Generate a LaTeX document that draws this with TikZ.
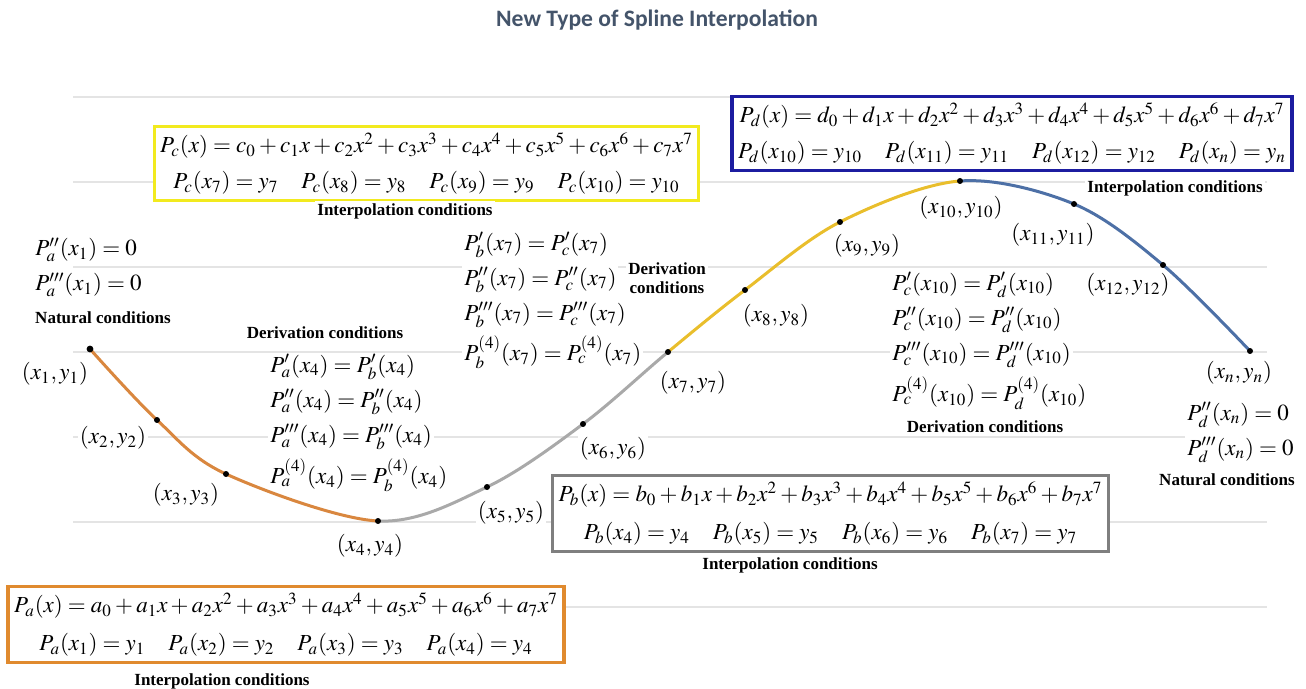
\documentclass[tikz,border=0pt]{standalone}
\usepackage{mathptmx}
\usepackage[no-math]{fontspec}
\setmainfont{Liberation Serif}
\newfontfamily\titlefont{Carlito}
\usepackage{tikz}
\usetikzlibrary{positioning}
\definecolor{titlegray}{HTML}{44546A}
\definecolor{gridgray}{HTML}{E4E4E4}
\definecolor{curveA}{HTML}{D9873F}
\definecolor{curveB}{HTML}{A9A9A9}
\definecolor{curveC}{HTML}{E9BE2C}
\definecolor{curveD}{HTML}{4D70A6}
\definecolor{boxA}{HTML}{E08A2E}
\definecolor{boxB}{HTML}{7F7F7F}
\definecolor{boxC}{HTML}{F2EA1E}
\definecolor{boxD}{HTML}{1C1CA0}

\begin{document}
\begin{tikzpicture}[x=0.5pt,y=-0.5pt,
  form/.style={font=\fontsize{11.5}{14}\selectfont,fill=white,inner sep=1pt},
  rowl/.style={form,anchor=west},
  lbl/.style={font=\fontsize{8.5}{9.5}\selectfont\bfseries,fill=white,inner sep=1pt,align=center},
  polybox/.style={form,draw,line width=1.6pt,inner xsep=3pt,inner ysep=3pt,align=center},
  spline/.style={line width=1.5pt,line cap=round}]
\useasboundingbox (0,0) rectangle (1306,689);
\node[font=\titlefont\fontsize{11.8}{13}\selectfont\bfseries,text=titlegray] (title) at (657,20) {New Type of Spline Interpolation};
% faint guide lines
\draw[gridgray,line width=0.6pt](73,97)--(1267,97) (73,182)--(1267,182)
(73,267)--(1267,267) (73,352)--(1267,352) (73,437)--(1267,437)
(73,522)--(1267,522) (73,607)--(1267,607);
% knots
\coordinate (p1) at (90,349);
\coordinate (p2) at (157,420);
\coordinate (p3) at (226,474);
\coordinate (p4) at (378,521);
\coordinate (p5) at (487,487);
\coordinate (p6) at (583,424);
\coordinate (p7) at (668,352);
\coordinate (p8) at (745,290);
\coordinate (p9) at (840,222);
\coordinate (p10) at (960,181);
\coordinate (p11) at (1074,204);
\coordinate (p12) at (1163,265);
\coordinate (pn) at (1250,351);
% polynomial boxes
\node[polybox,draw=boxA] (boxa) at (286,624.5) {$P_a(x)=a_0+a_1x+a_2x^2+a_3x^3+a_4x^4+a_5x^5+a_6x^6+a_7x^7$\\[5pt]
$P_a(x_1)=y_1\quad P_a(x_2)=y_2\quad P_a(x_3)=y_3\quad P_a(x_4)=y_4$};
\node[polybox,draw=boxB] (boxb) at (830.5,513.5) {$P_b(x)=b_0+b_1x+b_2x^2+b_3x^3+b_4x^4+b_5x^5+b_6x^6+b_7x^7$\\[5pt]
$P_b(x_4)=y_4\quad P_b(x_5)=y_5\quad P_b(x_6)=y_6\quad P_b(x_7)=y_7$};
\node[polybox,draw=boxC] (boxc) at (426.5,163.5) {$P_c(x)=c_0+c_1x+c_2x^2+c_3x^3+c_4x^4+c_5x^5+c_6x^6+c_7x^7$\\[4pt]
$P_c(x_7)=y_7\quad P_c(x_8)=y_8\quad P_c(x_9)=y_9\quad P_c(x_{10})=y_{10}$};
\node[polybox,draw=boxD] (boxd) at (1012,133.5) {$P_d(x)=d_0+d_1x+d_2x^2+d_3x^3+d_4x^4+d_5x^5+d_6x^6+d_7x^7$\\[4pt]
$P_d(x_{10})=y_{10}\quad P_d(x_{11})=y_{11}\quad P_d(x_{12})=y_{12}\quad P_d(x_n)=y_n$};
\node[lbl] (interpa) at (222,681) {Interpolation conditions};
\node[lbl] (interpb) at (790,565) {Interpolation conditions};
\node[lbl] (interpc) at (405,211) {Interpolation conditions};
\node[lbl] (interpd) at (1175,188) {Interpolation conditions};
% natural conditions
\node[rowl] (nata1) at (33,250) {$P_a''(x_1)=0$};
\node[rowl] (nata2) at (33,285) {$P_a'''(x_1)=0$};
\node[lbl] (nata) at (103,318) {Natural conditions};
\node[rowl] (natd1) at (1185,415) {$P_d''(x_n)=0$};
\node[rowl] (natd2) at (1185,450) {$P_d'''(x_n)=0$};
\node[lbl] (natd) at (1227,480) {Natural conditions};
% derivation conditions
\node[lbl] (derab) at (325,333) {Derivation conditions};
\node[rowl] (ab1) at (268,367) {$P_a'(x_4)=P_b'(x_4)$};
\node[rowl] (ab2) at (268,402) {$P_a''(x_4)=P_b''(x_4)$};
\node[rowl] (ab3) at (268,437) {$P_a'''(x_4)=P_b'''(x_4)$};
\node[rowl] (ab4) at (268,475) {$P_a^{(4)}(x_4)=P_b^{(4)}(x_4)$};
\node[lbl] (derbc) at (667,278) {Derivation\\conditions};
\node[rowl] (bc1) at (462,245) {$P_b'(x_7)=P_c'(x_7)$};
\node[rowl] (bc2) at (462,280) {$P_b''(x_7)=P_c''(x_7)$};
\node[rowl] (bc3) at (462,315) {$P_b'''(x_7)=P_c'''(x_7)$};
\node[rowl] (bc4) at (462,352) {$P_b^{(4)}(x_7)=P_c^{(4)}(x_7)$};
\node[lbl] (dercd) at (985,427) {Derivation conditions};
\node[rowl] (cd1) at (890,285) {$P_c'(x_{10})=P_d'(x_{10})$};
\node[rowl] (cd2) at (890,320) {$P_c''(x_{10})=P_d''(x_{10})$};
\node[rowl] (cd3) at (890,355) {$P_c'''(x_{10})=P_d'''(x_{10})$};
\node[rowl] (cd4) at (890,393) {$P_c^{(4)}(x_{10})=P_d^{(4)}(x_{10})$};
% knot labels
\node[form] (l1) at (55,374) {$(x_1,y_1)$};
\node[form] (l2) at (113,438) {$(x_2,y_2)$};
\node[form] (l3) at (186,495) {$(x_3,y_3)$};
\node[form] (l4) at (370,546) {$(x_4,y_4)$};
\node[form] (l5) at (511,513) {$(x_5,y_5)$};
\node[form] (l6) at (613,449) {$(x_6,y_6)$};
\node[form] (l7) at (693,383) {$(x_7,y_7)$};
\node[form] (l8) at (776,316) {$(x_8,y_8)$};
\node[form] (l9) at (867,246) {$(x_9,y_9)$};
\node[form] (l10) at (961,208) {$(x_{10},y_{10})$};
\node[form] (l11) at (1053,235) {$(x_{11},y_{11})$};
\node[form] (l12) at (1128,285) {$(x_{12},y_{12})$};
\node[form] (ln) at (1239,373) {$(x_n,y_n)$};
% the spline, one colour per piece
\begin{scope}
\clip (0,0) rectangle (378,689);
\draw[spline,curveA] plot[smooth,tension=0.55] coordinates {(p1) (p2) (p3) (p4) (p5) (p6) (p7) (p8) (p9) (p10) (p11) (p12) (pn)};
\end{scope}
\begin{scope}
\clip (378,0) rectangle (668,689);
\draw[spline,curveB] plot[smooth,tension=0.55] coordinates {(p1) (p2) (p3) (p4) (p5) (p6) (p7) (p8) (p9) (p10) (p11) (p12) (pn)};
\end{scope}
\begin{scope}
\clip (668,0) rectangle (960,689);
\draw[spline,curveC] plot[smooth,tension=0.55] coordinates {(p1) (p2) (p3) (p4) (p5) (p6) (p7) (p8) (p9) (p10) (p11) (p12) (pn)};
\end{scope}
\begin{scope}
\clip (960,0) rectangle (1306,689);
\draw[spline,curveD] plot[smooth,tension=0.55] coordinates {(p1) (p2) (p3) (p4) (p5) (p6) (p7) (p8) (p9) (p10) (p11) (p12) (pn)};
\end{scope}
\fill (p1) circle[radius=1.7pt] (p2) circle[radius=1.5pt] (p3) circle[radius=1.5pt]
(p4) circle[radius=1.5pt] (p5) circle[radius=1.5pt] (p6) circle[radius=1.5pt]
(p7) circle[radius=1.5pt] (p8) circle[radius=1.5pt] (p9) circle[radius=1.5pt]
(p10) circle[radius=1.5pt] (p11) circle[radius=1.5pt] (p12) circle[radius=1.5pt]
(pn) circle[radius=1.5pt];
\end{tikzpicture}
\end{document}
